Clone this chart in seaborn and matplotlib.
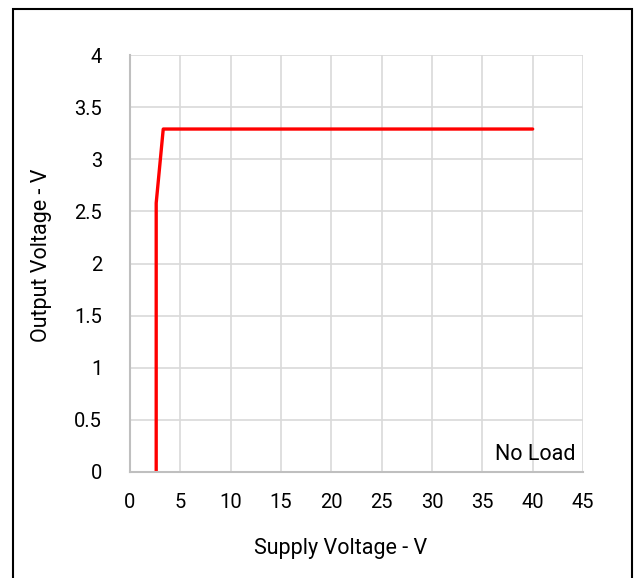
import matplotlib
matplotlib.use("Agg")
import matplotlib.pyplot as plt
import seaborn as sns
import pandas as pd
from matplotlib.patches import Rectangle
from matplotlib.ticker import FuncFormatter

# data
supply_v = [2.6, 2.6, 3.3, 40.0]
output_v = [0.0, 2.58, 3.29, 3.29]
x_ticks = [0, 5, 10, 15, 20, 25, 30, 35, 40, 45]
y_ticks = [0, 0.5, 1, 1.5, 2, 2.5, 3, 3.5, 4]

sns.set_theme(style="white")
plt.rcParams["font.family"] = ["Roboto", "DejaVu Sans"]

df = pd.DataFrame({"supply": supply_v, "output": output_v})

fig = plt.figure(figsize=(6.38, 5.78), dpi=100)
ax = fig.add_axes([0.2038, 0.1834, 0.71, 0.7214])

sns.lineplot(
    data=df,
    x="supply",
    y="output",
    sort=False,
    estimator=None,
    color="#ff0000",
    linewidth=2.4,
    ax=ax
)

ax.set_xlim(0, 45)
ax.set_ylim(0, 4)
ax.set_xticks(x_ticks)
ax.set_yticks(y_ticks)
ax.yaxis.set_major_formatter(FuncFormatter(lambda v, p: f"{v:g}"))
ax.grid(True, color="#d9d9d9", linewidth=1.2)
ax.set_axisbelow(True)

for side in ["left", "bottom"]:
    ax.spines[side].set_color("#bfbfbf")
    ax.spines[side].set_linewidth(1.5)
for side in ["top", "right"]:
    ax.spines[side].set_visible(False)

ax.tick_params(axis="x", length=0, labelsize=14.5, colors="#000000", pad=15)
ax.tick_params(axis="y", length=0, labelsize=14.5, colors="#000000", pad=20)

ax.set_xlabel("Supply Voltage - V", fontsize=15.5, color="#000000")
ax.set_ylabel("Output Voltage - V", fontsize=15.5, color="#000000")
ax.xaxis.set_label_coords(0.464, -0.158)
ax.yaxis.set_label_coords(-0.172, 0.52)

ax.text(44.3, 0.17, "No Load", ha="right", va="center", fontsize=15.5, color="#000000")

# outer frame
fig.patches.append(
    Rectangle(
        (0.02, -0.01), 0.971, 0.995,
        transform=fig.transFigure,
        fill=False,
        edgecolor="#000000",
        linewidth=1.5
    )
)

fig.savefig("out.png", dpi=100)
plt.close(fig)
